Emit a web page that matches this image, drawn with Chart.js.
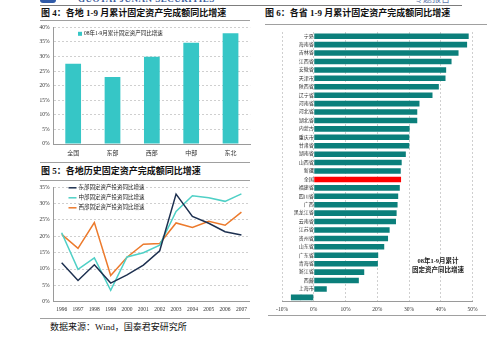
<!DOCTYPE html>
<html>
<head>
<meta charset="utf-8">
<script src="https://cdn.jsdelivr.net/npm/chart.js@4.4.0/dist/chart.umd.min.js"></script>
<style>
body { margin: 0; width: 500px; height: 341px; position: relative; overflow: hidden; background: #fff;
       font-family: "Liberation Serif", "Noto Sans CJK SC", serif; }
.box { position: absolute; }
.rule { position: absolute; height: 0; border-top: 1px solid #a0a0a0; }
.title { position: absolute; font-weight: bold; font-size: 9px; line-height: 10px; white-space: nowrap; color: #111; }
</style>
</head>
<body>

<!-- header remnants -->
<div class="box" style="left:40px;top:-4px;width:16px;height:7px;border-radius:3px;background:#2f5aa8"></div>
<div class="box" style="left:78px;top:-5px;font-size:9px;line-height:9px;font-weight:bold;color:#3a5a9a;letter-spacing:0.5px;white-space:nowrap">GUOTAI JUNAN SECURITIES</div>
<div class="box" style="left:414px;top:-5px;font-size:9px;line-height:9px;color:#5f78ab;white-space:nowrap">专题报告</div>
<div class="rule" style="left:40px;top:5px;width:422px;border-top:1.5px solid #7d7d7d"></div>

<div class="title" style="left:41px;top:8px">图 4：各地 1-9 月累计固定资产完成额同比增速</div>
<div class="rule" style="left:40px;top:20px;width:210px"></div>
<div class="box" style="left:0;top:20px;width:252px;height:142px"><canvas id="regionChart"></canvas></div>
<div class="rule" style="left:40px;top:162px;width:210px"></div>

<div class="title" style="left:41px;top:166px">图 5：各地历史固定资产完成额同比增速</div>
<div class="rule" style="left:40px;top:180px;width:210px"></div>
<div class="box" style="left:0;top:180px;width:252px;height:137px"><canvas id="historyChart"></canvas></div>
<div class="rule" style="left:40px;top:318px;width:210px"></div>
<div class="box" style="left:50px;top:322px;font-size:9px;line-height:11px;white-space:nowrap;color:#111">数据来源：Wind，国泰君安研究所</div>

<div class="title" style="left:265px;top:8px">图 6：各省 1-9 月累计固定资产完成额同比增速</div>
<div class="rule" style="left:265px;top:24px;width:222px"></div>
<div class="box" style="left:255px;top:25px;width:245px;height:290px"><canvas id="provinceChart"></canvas></div>
<div class="rule" style="left:268px;top:315px;width:218px"></div>
<div class="box" style="left:398px;top:257px;width:80px;text-align:center;font-size:6.5px;line-height:8.5px;font-weight:bold;color:#222">08年1-9月累计<br>固定资产同比增速</div>

<script>
// 图4
let regions = ['全国', '东部', '西部', '中部', '东北']
let regionGrowth = [27.5, 23.0, 29.9, 34.7, 38.0]

// 图5
let years = ['1996', '1997', '1998', '1999', '2000', '2001', '2002', '2003', '2004', '2005', '2006', '2007']
let east = [11.9, 6.5, 11.3, 5.7, 8.2, 11.2, 15.6, 32.9, 26.1, 24.0, 21.4, 20.4]
let central = [21.1, 9.9, 13.4, 3.5, 13.7, 15.0, 17.3, 27.6, 32.4, 31.8, 30.7, 33.0]
let west = [20.6, 16.3, 24.2, 8.0, 13.6, 17.6, 17.8, 24.1, 22.7, 24.6, 23.4, 27.4]

// 图6
let provinces = ['宁夏', '海南省', '吉林省', '江西省', '安徽省', '天津市', '陕西省', '辽宁省', '河南省', '河北省',
    '湖北省', '内蒙古', '重庆市', '甘肃省', '湖南省', '山西省', '新疆', '全国', '福建省', '四川省', '广西',
    '黑龙江省', '云南省', '江苏省', '贵州省', '山东省', '广东省', '青海省', '浙江省', '西藏', '上海市', '北京市']
let provinceGrowth = [48.8, 48.3, 45.6, 43.4, 41.7, 41.5, 39.4, 37.4, 33.3, 32.6,
    32.6, 30.2, 30.1, 30.1, 29.0, 27.7, 27.4, 27.5, 27.1, 26.6, 26.4,
    26.1, 25.9, 23.9, 23.4, 22.2, 20.3, 20.2, 15.9, 14.2, 4.1, -7.2]

Chart.defaults.font.family = '"Liberation Serif", "Noto Sans CJK SC", serif'
Chart.defaults.color = '#333'
Chart.defaults.animation = false

const tickFont = { size: 5.5 }
const gridColor = '#cfcfcf'

// legend drawn inside the plot area
const insideLegend = {
    id: 'insideLegend',
    afterDraw(chart, args, opts) {
        if (!opts.marker) return
        const ctx = chart.ctx
        const a = chart.chartArea
        ctx.save()
        ctx.font = opts.font
        ctx.textBaseline = 'middle'
        chart.data.datasets.forEach((ds, i) => {
            const x = a.left + opts.x
            const y = a.top + opts.y + i * opts.step
            if (opts.marker === 'line') {
                ctx.strokeStyle = ds.borderColor
                ctx.lineWidth = 1.5
                ctx.beginPath()
                ctx.moveTo(x, y)
                ctx.lineTo(x + 8, y)
                ctx.stroke()
                ctx.fillStyle = '#222'
                ctx.fillText(ds.label, x + 10, y)
            } else {
                ctx.fillStyle = ds.backgroundColor
                ctx.fillRect(x, y - 2, 4, 4)
                ctx.fillStyle = '#222'
                ctx.fillText(ds.label, x + 6, y)
            }
        })
        ctx.restore()
    }
}
Chart.register(insideLegend)

const pct = v => v + '%'

new Chart(document.getElementById('regionChart'), {
    type: 'bar',
    data: {
        labels: regions,
        datasets: [{
            label: '08年1-9月累计固定资产同比增速',
            data: regionGrowth,
            backgroundColor: '#36c6c6',
            barPercentage: 0.4,
            categoryPercentage: 1
        }]
    },
    options: {
        responsive: true,
        maintainAspectRatio: false,
        layout: { padding: { top: 7.3, right: 1.8, left: 0, bottom: 0 } },
        plugins: {
            legend: { display: false },
            tooltip: { enabled: false },
            insideLegend: { marker: 'box', x: 24.5, y: 6.5, step: 10, font: '5.5px "Liberation Serif", "Noto Sans CJK SC"' }
        },
        scales: {
            x: {
                grid: { display: false, drawTicks: false },
                border: { color: '#9a9a9a' },
                ticks: { font: { size: 6 }, padding: 6 },
                afterFit: s => { s.height = 18 }
            },
            y: {
                min: 0, max: 40,
                ticks: { stepSize: 5, callback: pct, font: tickFont, padding: 4 },
                grid: { color: gridColor, drawTicks: false },
                border: { color: '#9a9a9a', dash: [2, 2] },
                afterFit: s => { s.width = 53.5 }
            }
        }
    }
})

new Chart(document.getElementById('historyChart'), {
    type: 'line',
    data: {
        labels: years,
        datasets: [
            { label: '东部固定资产投资同比增速', data: east, borderColor: '#1d3050' },
            { label: '中部固定资产投资同比增速', data: central, borderColor: '#4fd0c6' },
            { label: '西部固定资产投资同比增速', data: west, borderColor: '#ec7a2c' }
        ]
    },
    options: {
        responsive: true,
        maintainAspectRatio: false,
        layout: { padding: { top: 7.3, right: 2, left: 0, bottom: 0 } },
        elements: { point: { radius: 0 }, line: { borderWidth: 1.5, tension: 0 } },
        plugins: {
            legend: { display: false },
            tooltip: { enabled: false },
            insideLegend: { marker: 'line', x: 15, y: 0.5, step: 10, font: '5.5px "Liberation Serif", "Noto Sans CJK SC"' }
        },
        scales: {
            x: {
                offset: true,
                grid: { display: false, drawTicks: false },
                border: { color: '#9a9a9a' },
                ticks: { font: tickFont, padding: 5, maxRotation: 0, autoSkip: false },
                afterFit: s => { s.height = 15.3 }
            },
            y: {
                min: 0, max: 35,
                ticks: { stepSize: 5, callback: pct, font: tickFont, padding: 4 },
                grid: { color: gridColor, drawTicks: false },
                border: { color: '#9a9a9a', dash: [2, 2] },
                afterFit: s => { s.width = 53.5 }
            }
        }
    }
})

new Chart(document.getElementById('provinceChart'), {
    type: 'bar',
    data: {
        labels: provinces,
        datasets: [{
            label: '08年1-9月累计固定资产同比增速',
            data: provinceGrowth,
            backgroundColor: provinces.map(p => p === '全国' ? '#ff0000' : '#0b7f7b'),
            barPercentage: 0.66,
            categoryPercentage: 1
        }]
    },
    options: {
        indexAxis: 'y',
        responsive: true,
        maintainAspectRatio: false,
        layout: { padding: { top: 2.4, right: 27.5, left: 27, bottom: 0 } },
        plugins: {
            legend: { display: false },
            tooltip: { enabled: false }
        },
        scales: {
            x: {
                min: -10, max: 50,
                ticks: { stepSize: 10, callback: pct, font: tickFont, padding: 5 },
                grid: { color: gridColor, drawTicks: false },
                border: { color: '#9a9a9a', dash: [2, 2] },
                afterFit: s => { s.height = 13.4 }
            },
            y: {
                position: { x: 0 },
                z: 1,
                grid: { display: false, drawTicks: false },
                border: { display: false },
                ticks: { font: { size: 5 }, padding: 4, autoSkip: false }
            }
        }
    }
})
</script>
</body>
</html>
